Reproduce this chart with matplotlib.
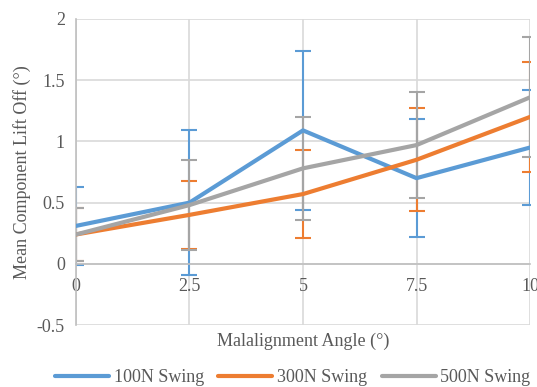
import matplotlib.pyplot as plt

plt.rcParams['font.family'] = ['Liberation Serif', 'DejaVu Serif']

angles = [0, 2.5, 5, 7.5, 10]
series = ['100N Swing', '300N Swing', '500N Swing']
colors = ['#5B9BD5', '#ED7D31', '#A5A5A5']

mean_100 = [0.31, 0.50, 1.09, 0.70, 0.95]
err_100 = [0.32, 0.59, 0.65, 0.48, 0.47]
mean_300 = [0.24, 0.40, 0.57, 0.85, 1.20]
err_300 = [0.22, 0.28, 0.36, 0.42, 0.45]
mean_500 = [0.24, 0.48, 0.78, 0.97, 1.36]
err_500 = [0.22, 0.37, 0.42, 0.43, 0.49]

means = [mean_100, mean_300, mean_500]
errs = [err_100, err_300, err_500]

fig = plt.figure(figsize=(5.37, 3.87), dpi=100)
ax = fig.add_axes([0.1415, 0.160, 0.8455, 0.791])

for m, e, c in zip(means, errs, colors):
    ax.errorbar(angles, m, yerr=e, fmt='none', ecolor=c, elinewidth=1.5,
                capsize=6, capthick=1.5, zorder=2)
for m, c, name in zip(means, colors, series):
    ax.plot(angles, m, color=c, lw=3, label=name, zorder=3, solid_capstyle='round')

ax.set_xlim(0, 10)
ax.set_ylim(-0.5, 2)
ax.set_xticks(angles)
ax.set_xticklabels(['0', '2.5', '5', '7.5', '10'])
ax.set_yticks([-0.5, 0, 0.5, 1, 1.5, 2])
ax.set_yticklabels(['-0.5', '0', '0.5', '1', '1.5', '2'])
ax.grid(True, color='#D9D9D9', lw=1.2, zorder=0)
ax.set_axisbelow(True)

for s in ['top', 'right']:
    ax.spines[s].set_visible(False)
ax.spines['left'].set_color('#BFBFBF')
ax.spines['left'].set_linewidth(1.2)
ax.spines['bottom'].set_position(('data', 0))
ax.spines['bottom'].set_color('#BFBFBF')
ax.spines['bottom'].set_linewidth(1.2)
ax.tick_params(length=0, labelsize=13, colors='#595959', pad=8)
ax.tick_params(axis='x', pad=10)

ax.set_ylabel('Mean Component Lift Off (°)', fontsize=13, color='#595959', labelpad=4)
fig.text(0.5645, 0.118, 'Malalignment Angle (°)', fontsize=13, color='#595959',
         ha='center', va='center')

leg = fig.legend(loc='center', bbox_to_anchor=(0.545, 0.025), ncol=3, frameon=False,
                 fontsize=13, handlelength=3.0, columnspacing=0.8, handletextpad=0.25)
for t in leg.get_texts():
    t.set_color('#595959')

fig.savefig('out.png', dpi=100)
